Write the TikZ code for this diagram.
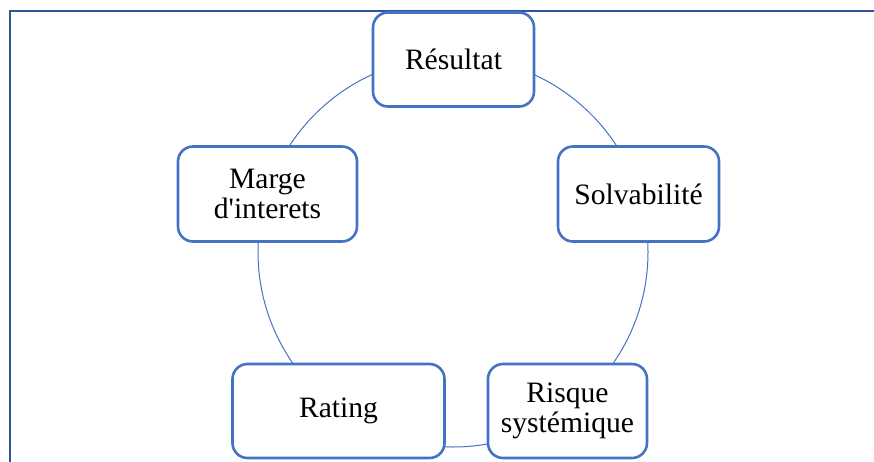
\documentclass[tikz,border=0pt]{standalone}
\usepackage{fontspec}
\setmainfont{Liberation Serif}[Ligatures=TeXOff]
\definecolor{boxblue}{HTML}{4472C4}
\definecolor{framblue}{HTML}{2F5597}
\begin{document}
\begin{tikzpicture}[x=1pt,y=-1pt,
  cyclebox/.style={draw=boxblue, line width=2.6pt, fill=white, rounded corners=15pt,
    align=center, inner sep=2pt, font=\fontsize{29.6}{30}\selectfont},
  ring/.style={draw=boxblue, line width=1pt}]
\useasboundingbox (0,0) rectangle (874,461);
\draw[framblue, line width=2pt] (10,462) -- (10,10.5) -- (875,10.5);
\draw[ring] (453,252) circle (195);
\node[cyclebox, minimum width=161pt, minimum height=94pt] (res) at (453.5,59.5) {Résultat};
\node[cyclebox, minimum width=161pt, minimum height=95pt] (sol) at (638.5,194) {Solvabilité};
\node[cyclebox, minimum width=179pt, minimum height=95pt] (mar) at (267.5,194) {Marge\\d'interets};
\node[cyclebox, minimum width=212pt, minimum height=94pt] (rat) at (338.5,411) {Rating};
\node[cyclebox, minimum width=159pt, minimum height=94pt] (ris) at (567.5,411) {Risque\\systémique};
\end{tikzpicture}
\end{document}
